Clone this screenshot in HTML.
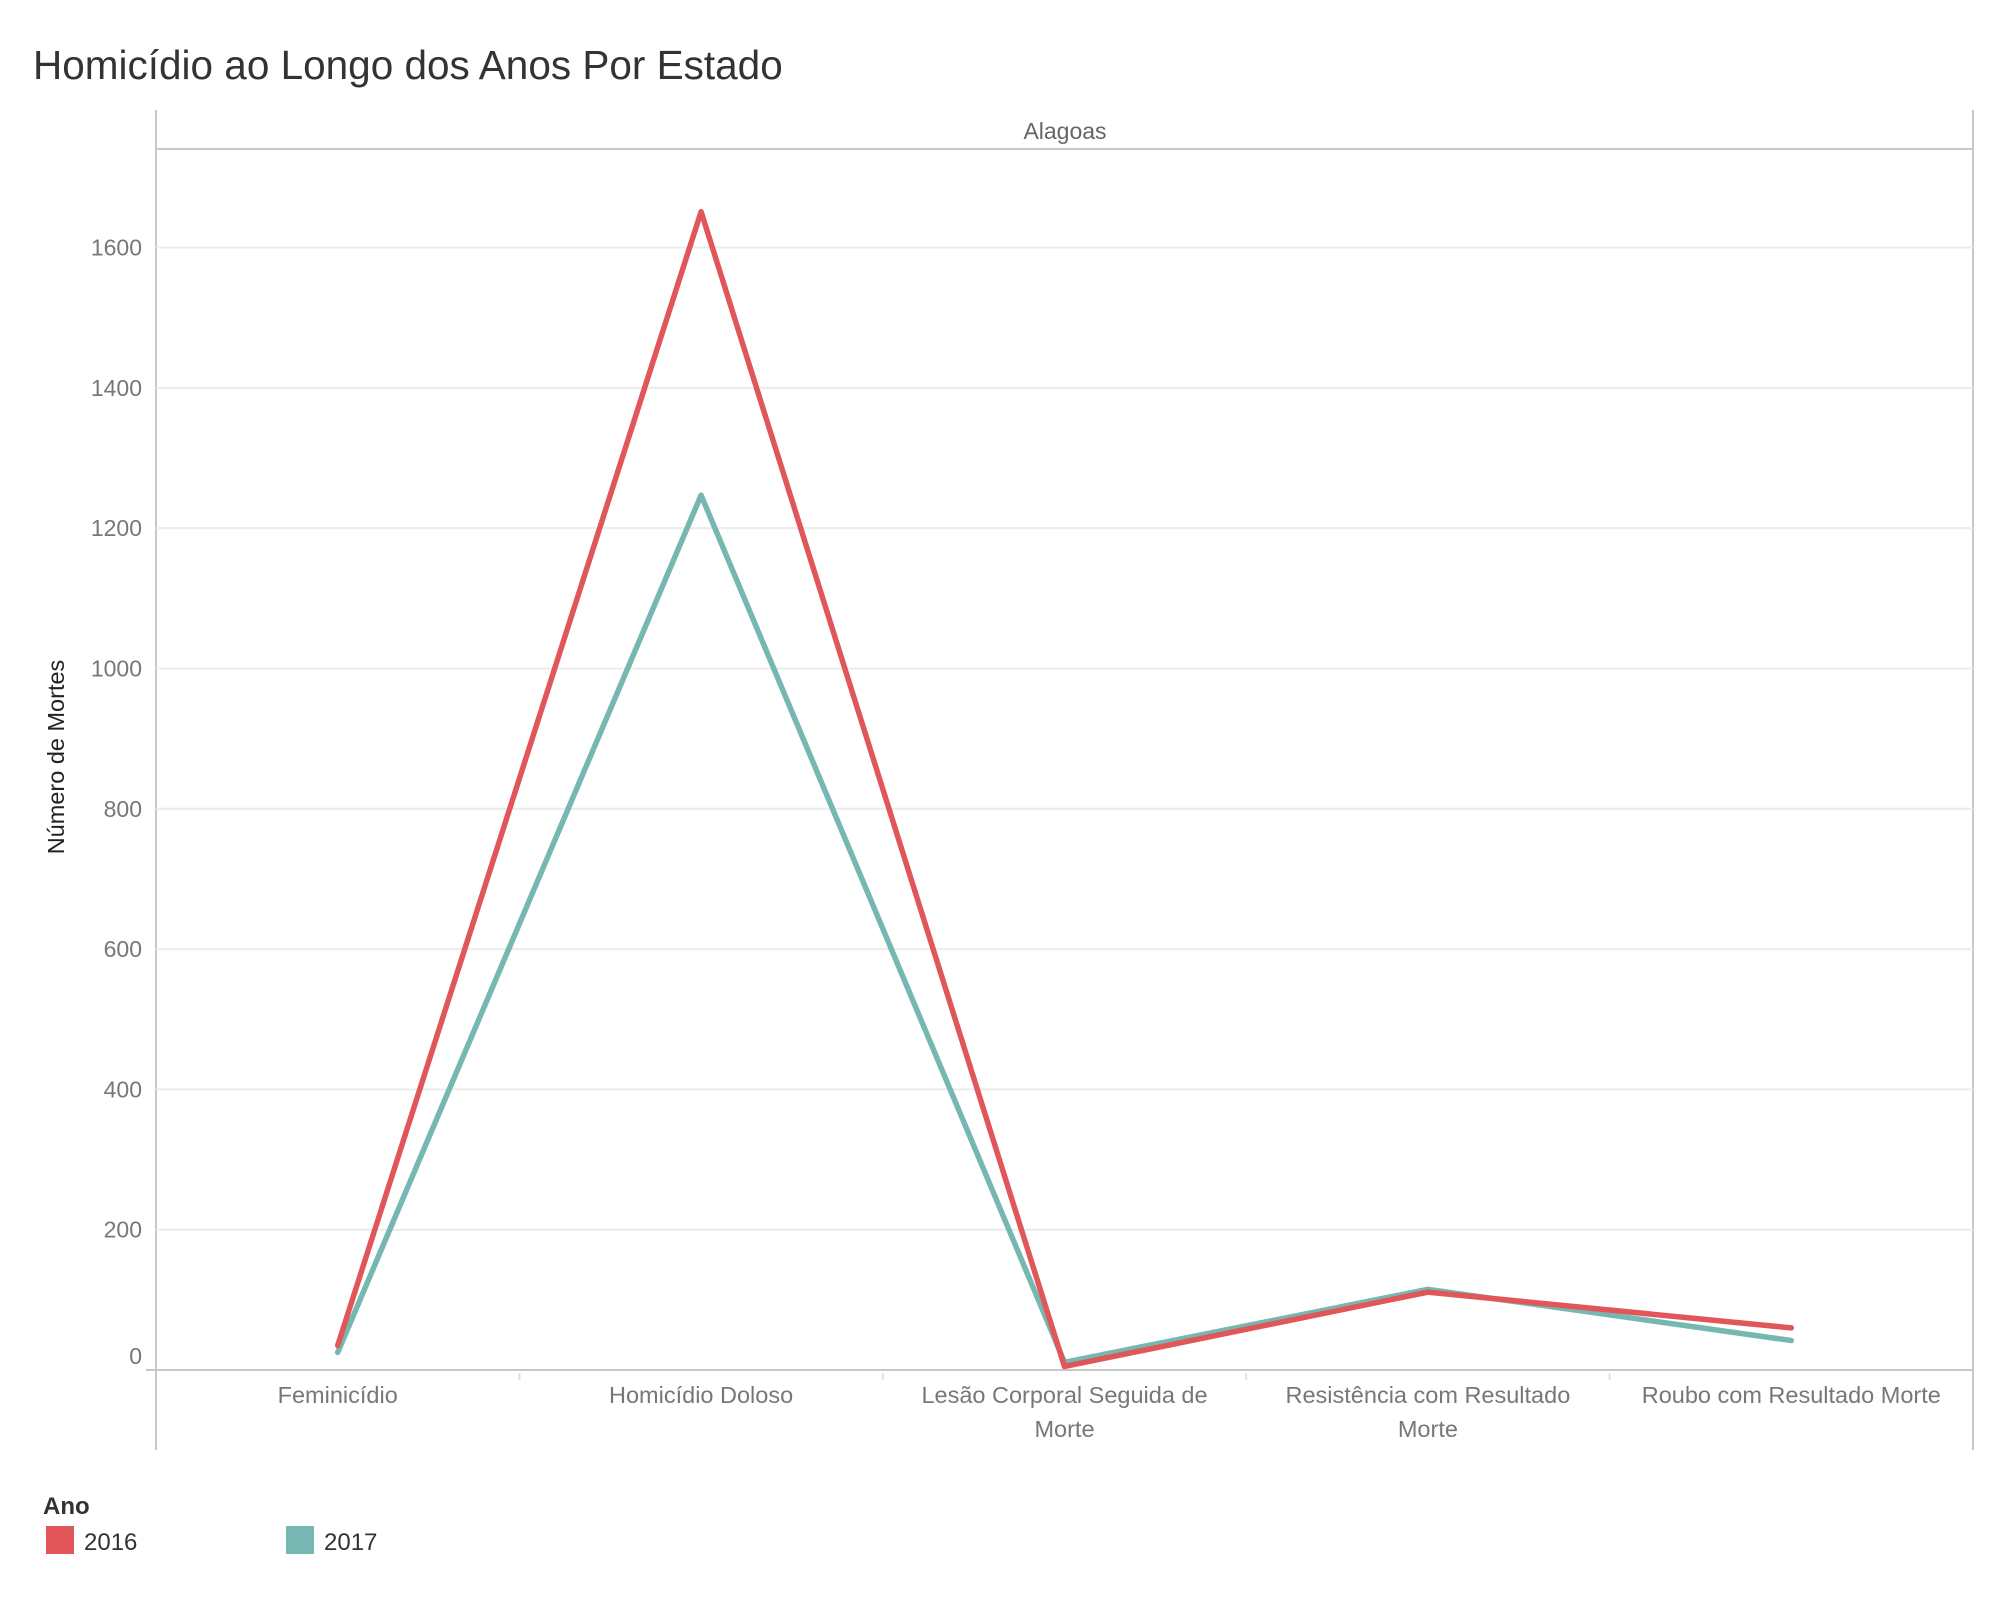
<!DOCTYPE html>
<html><head><meta charset="utf-8"><style>
body{margin:0;background:#fff;}
svg{display:block;font-family:"Liberation Sans Narrow","Liberation Sans",sans-serif;}
</style></head><body>
<svg id="chart" width="2000" height="1600" viewBox="0 0 2000 1600">
<text x="33" y="79" font-size="40.5" fill="#333">Homicídio ao Longo dos Anos Por Estado</text>
<line x1="156" y1="110" x2="156" y2="1450" stroke="#c8c8c8" stroke-width="2"/>
<line x1="1973" y1="110" x2="1973" y2="1450" stroke="#c8c8c8" stroke-width="2"/>
<line x1="156" y1="149" x2="1973" y2="149" stroke="#c8c8c8" stroke-width="2"/>
<text x="1065" y="139" font-size="23" fill="#666" text-anchor="middle">Alagoas</text>
<text transform="translate(64,757) rotate(-90)" font-size="23.5" fill="#222" text-anchor="middle">Número de Mortes</text>
<g id="grid"></g><g id="xaxis"></g><g id="lines"></g>
<text x="43" y="1514" font-size="24" fill="#333" font-weight="bold">Ano</text>
<rect x="46" y="1526" width="28" height="28" fill="#e15759"/>
<text x="84" y="1550" font-size="24" fill="#333">2016</text>
<rect x="286" y="1526" width="28" height="28" fill="#76b7b2"/>
<text x="324" y="1550" font-size="24" fill="#333">2017</text>
</svg>
<script>
const categories=[["Feminicídio"],["Homicídio Doloso"],["Lesão Corporal Seguida de","Morte"],["Resistência com Resultado","Morte"],["Roubo com Resultado Morte"]];
const values2016=[35,1651,5,111,60];
const values2017=[25,1247,11,115,42];
const yTicks=[0,200,400,600,800,1000,1200,1400,1600];
const NS="http://www.w3.org/2000/svg";
const x0=156,x1=1973,y0=1370,yTop=247.5,vTop=1600;
const band=(x1-x0)/categories.length;
function xs(i){return x0+band*(i+0.5);}
function ys(v){return y0-(v/vTop)*(y0-yTop);}
function mk(tag,attrs,parent){const e=document.createElementNS(NS,tag);for(const k in attrs)e.setAttribute(k,attrs[k]);parent.appendChild(e);return e;}
const grid=document.getElementById('grid'),xa=document.getElementById('xaxis'),lg=document.getElementById('lines');
yTicks.forEach(t=>{
 if(t>0){const l=mk('line',{x1:x0,x2:x1,y1:ys(t),y2:ys(t),stroke:'#ececec','stroke-width':2},grid);
 
 }
 const tx=mk('text',{x:142,y:(t===0?ys(t)-6:ys(t)+8),'font-size':23,fill:'#777','text-anchor':'end'},grid);
 tx.textContent=t;
 
 
});
const ax=mk('line',{x1:146,x2:x1,y1:y0,y2:y0,stroke:'#c8c8c8','stroke-width':2},xa);


categories.forEach((c,i)=>{
 if(i>0){const s=mk('line',{x1:x0+band*i,x2:x0+band*i,y1:y0+3,y2:y0+10,stroke:'#e0e0e0','stroke-width':2},xa);
 
 }
 c.forEach((line,j)=>{
  const t=mk('text',{x:xs(i),y:1403+j*34,'font-size':23.5,fill:'#777','text-anchor':'middle'},xa);
  t.textContent=line;
  
  
 });
});
function drawLine(vals,color,name){
 const p=mk('polyline',{points:vals.map((v,i)=>xs(i)+','+ys(v)).join(' '),fill:'none',stroke:color,'stroke-width':5.5,'stroke-linejoin':'round','stroke-linecap':'round'},lg);
 
 
}
drawLine(values2017,'#76b7b2','line-2017');
drawLine(values2016,'#e15759','line-2016');
</script>
</body></html>
